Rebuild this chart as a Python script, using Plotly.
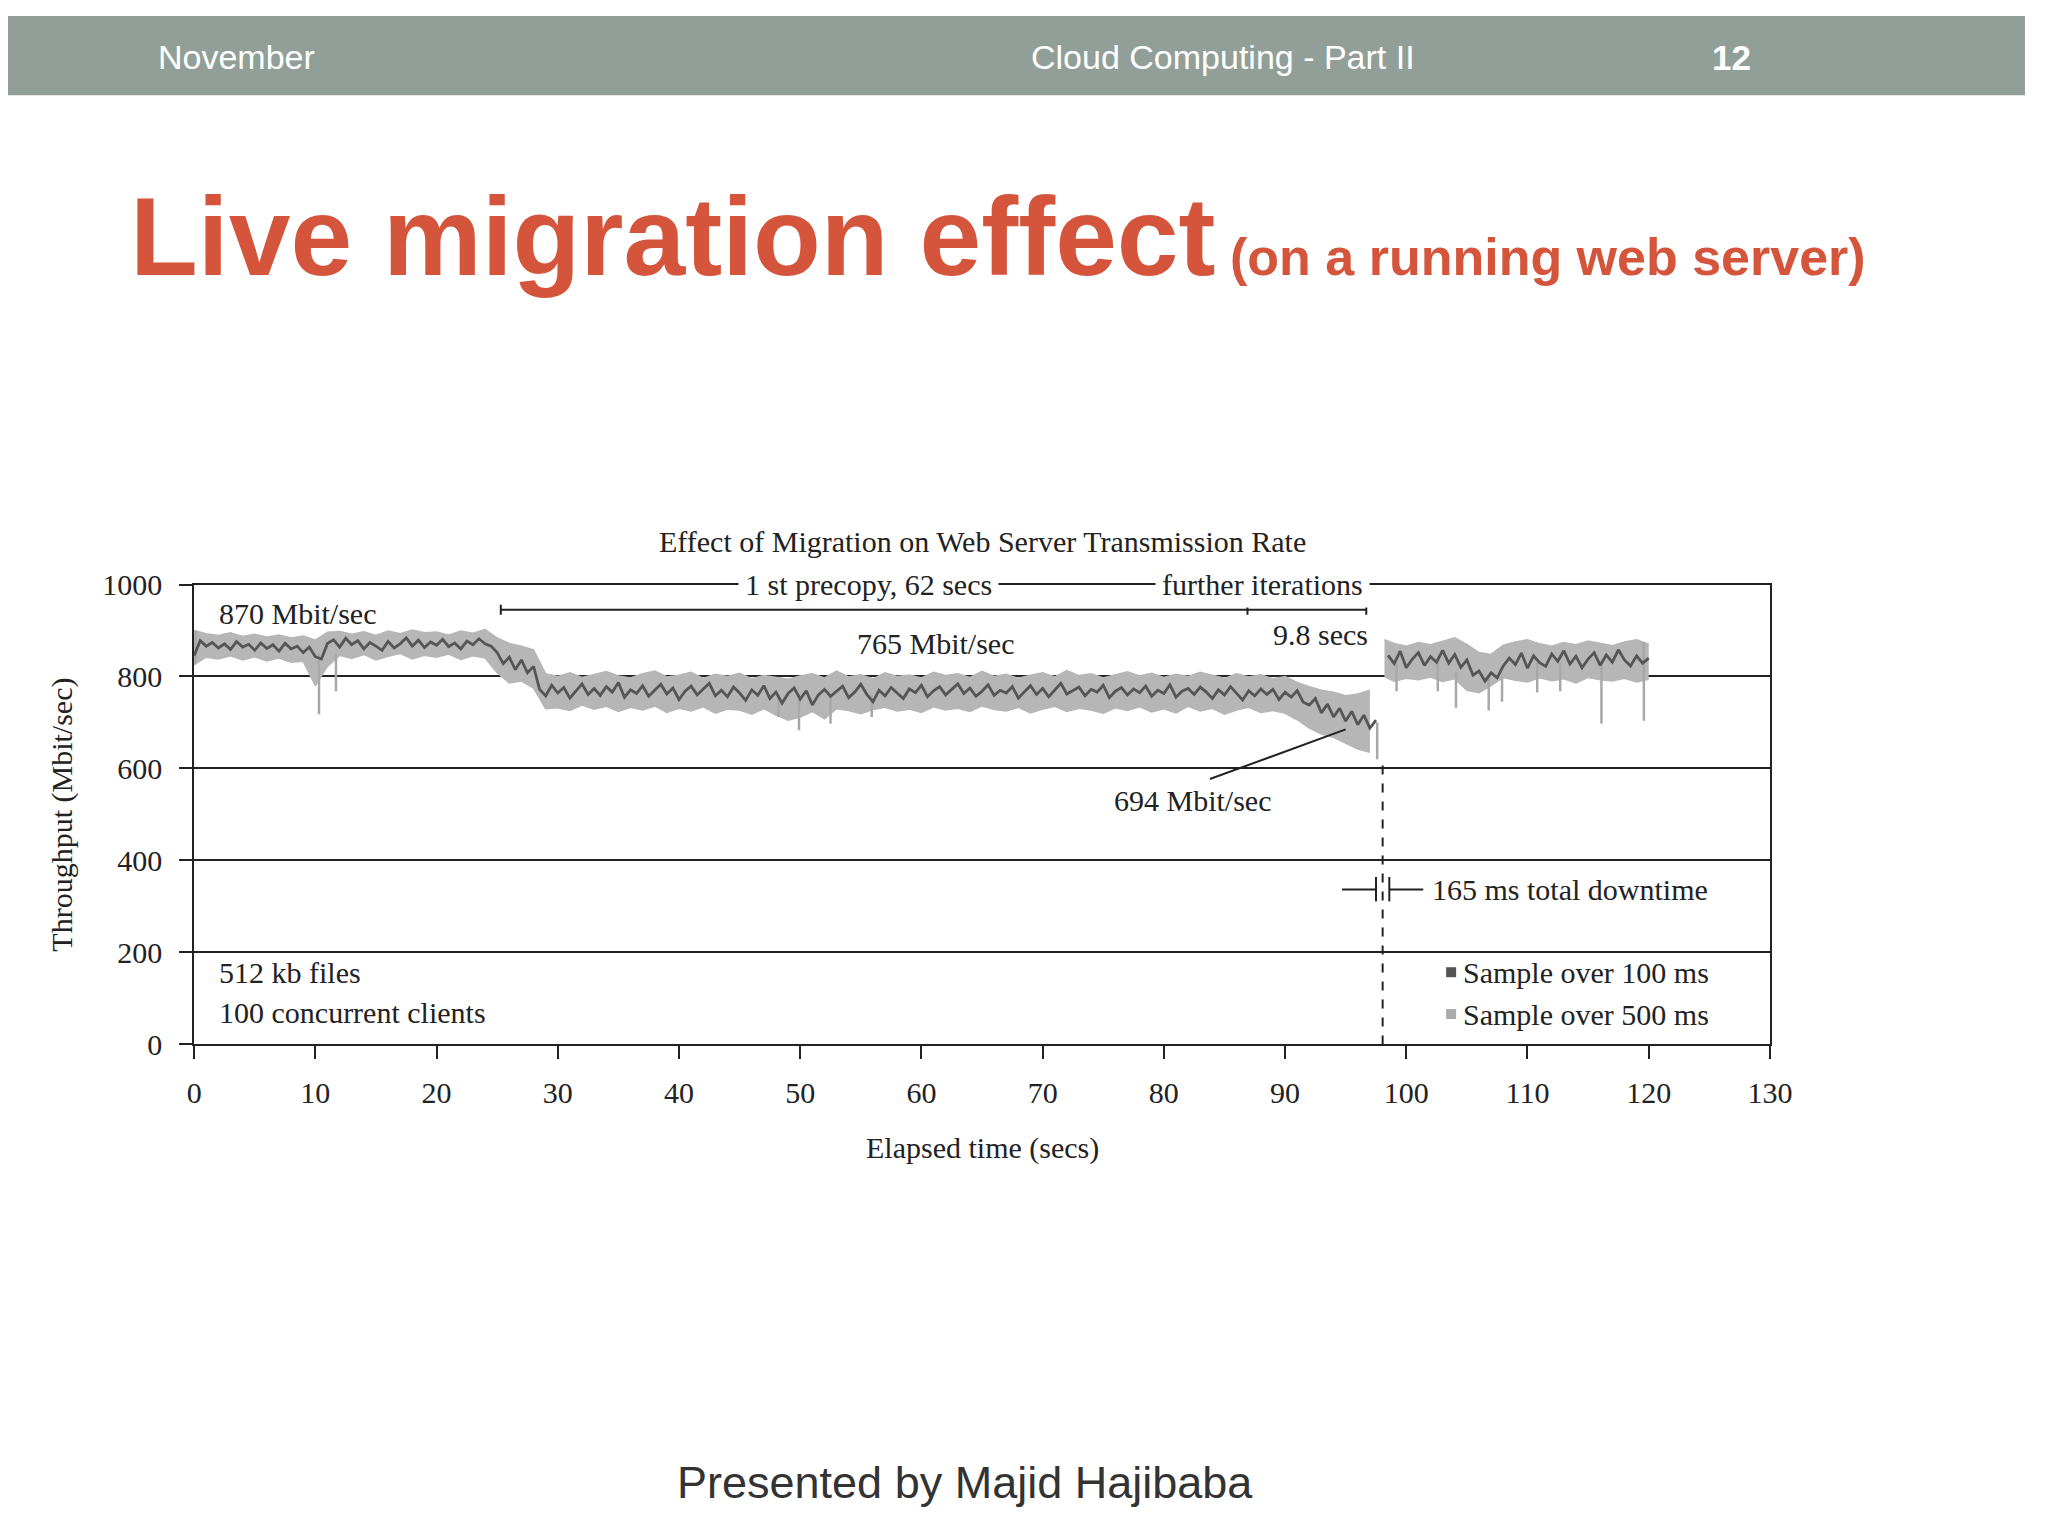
import plotly.graph_objects as go

# slide texts
header_left = "November"
header_mid = "Cloud Computing - Part II"
header_page = "12"
slide_title = "Live migration effect"
slide_subtitle = "(on a running web server)"
footer = "Presented by Majid Hajibaba"

# axes
x_ticks = [0, 10, 20, 30, 40, 50, 60, 70, 80, 90, 100, 110, 120, 130]
y_ticks = [0, 200, 400, 600, 800, 1000]

# throughput (Mbit/sec), 100 ms samples, read every 0.5 s off the figure
t_dark_pre = [i * 0.5 for i in range(196)]          # 0 .. 97.5 s
dark_pre = [
    845, 878, 866, 874, 862, 871, 859, 876, 864, 870,
    857, 873, 861, 869, 855, 872, 860, 866, 852, 864,
    843, 838, 872, 880, 864, 883, 869, 878, 860, 874,
    866, 857, 876, 862, 871, 884, 866, 879, 863, 875,
    868, 881, 865, 873, 860, 877, 869, 882, 871, 866,
    852, 828, 842, 815, 836, 808, 822,
    772, 758, 781, 764, 776, 753, 769, 784, 761, 774,
    759, 778, 766, 787, 755, 771, 763, 780, 757, 770,
    783, 762, 775, 750, 768, 779, 760, 773, 785, 758,
    770, 756, 777, 764, 748, 771, 759, 780, 752, 766,
    742, 763, 775, 751, 769, 738, 760, 772, 757, 768,
    779, 754, 766, 783, 761, 745, 770, 758, 776, 764,
    752, 773, 765, 781, 756, 769, 778, 760, 771, 784,
    763, 775, 757, 768, 782, 759, 770, 764, 778, 753,
    767, 780, 761, 774, 756, 771, 785, 762, 769, 777,
    758, 772, 766, 781, 754, 768, 776, 760, 773, 765,
    779, 757, 770, 763, 782, 755, 768, 774, 761, 777,
    766, 752, 771, 760, 778, 764, 749, 769, 758, 773,
    761, 772, 750, 766, 755, 769, 744,
    738, 752, 721, 740, 712, 731, 703, 724, 695, 716, 688, 705,
]
t_dark_post = [98.5 + i * 0.5 for i in range(44)]   # 98.5 .. 120 s
dark_post = [
    846, 828, 855, 819, 838, 852, 824, 843, 831, 857,
    829, 848, 820, 836, 803, 812, 790, 808, 797, 823,
    840, 826, 851, 818, 845, 830, 822, 849, 833, 856,
    827, 844, 819, 838, 852, 824, 847, 831, 858, 836,
    823, 845, 829, 840,
]

# 500 ms samples: spread (high / low) per second
t_light_pre = list(range(98))
light_pre_hi = [
    900, 893, 889, 895, 887, 892, 886, 890, 884, 888,
    879, 896, 898, 892, 897, 889, 899, 893, 901, 895,
    897, 890, 899, 894, 902, 884, 872, 866, 858, 806,
    800, 808, 798, 804, 811, 801, 797, 806, 812, 799,
    803, 809, 796, 805, 800, 807, 795, 802, 798, 794,
    801, 806, 797, 812, 799, 804, 795, 808, 800, 803,
    797, 809, 802, 806, 798, 811, 800, 805, 796, 803,
    808, 799, 813, 802, 806, 797, 804, 810, 801, 807,
    798, 805, 800, 809, 803, 796, 806, 799, 804, 795,
    800, 787, 778, 770, 766, 758, 762, 770,
]
light_pre_lo = [
    826, 842, 838, 845, 836, 843, 834, 840, 831, 833,
    780, 822, 846, 839, 848, 836, 844, 850, 838, 846,
    842, 849, 837, 845, 840, 808, 786, 790, 775, 730,
    732, 726, 738, 729, 735, 724, 733, 727, 736, 722,
    731, 725, 734, 720, 729, 727, 718, 730, 716, 705,
    712, 724, 708, 730, 726, 719, 728, 733, 725, 729,
    722, 734, 727, 731, 724, 736, 728, 725, 733, 721,
    729, 735, 724, 731, 727, 720, 732, 726, 734, 723,
    730, 721, 735, 725, 731, 718, 727, 733, 722, 726,
    720, 706, 688, 675, 668, 655, 642, 635,
]
t_light_post = [98.2] + list(range(99, 121))
light_post_hi = [880, 872, 866, 874, 869, 876, 884, 870, 852, 848, 868, 875,
                 880, 871, 866, 874, 869, 877, 872, 867, 875, 880, 870]
light_post_lo = [800, 790, 796, 793, 799, 789, 795, 770, 765, 780, 798, 792,
                 788, 797, 791, 795, 786, 798, 793, 790, 796, 788, 794]

# isolated drops in the 500 ms samples
spike_t = [0.1, 10.3, 11.7, 48.2, 49.9, 52.5, 55.9, 97.6, 99.2, 102.6, 104.1,
           106.8, 107.9, 110.8, 112.7, 116.1, 119.6]
spike_lo = [826, 718, 768, 712, 683, 697, 712, 620, 768, 768, 732, 726, 745,
            765, 768, 697, 704]
spike_hi = [900, 850, 850, 760, 760, 760, 760, 700, 830, 830, 810, 800, 800,
            830, 830, 820, 875]

migration_t = 98.05   # switch-over (downtime)

DARK = '#555555'
LIGHT = '#b6b6b6'
INK = '#222222'
SERIF = 'Liberation Serif'
SANS = 'Liberation Sans'

fig = go.Figure()

# light band (500 ms)
for tt, lo, hi in [(t_light_pre, light_pre_lo, light_pre_hi),
                   (t_light_post, light_post_lo, light_post_hi)]:
    fig.add_trace(go.Scatter(x=tt, y=lo, mode='lines',
                             line=dict(color=LIGHT, width=1.5), hoverinfo='skip'))
    fig.add_trace(go.Scatter(x=tt, y=hi, mode='lines', fill='tonexty',
                             fillcolor=LIGHT, line=dict(color=LIGHT, width=1.5),
                             name='Sample over 500 ms'))

sx, sy = [], []
for t, lo, hi in zip(spike_t, spike_lo, spike_hi):
    sx += [t, t, None]
    sy += [lo, hi, None]
fig.add_trace(go.Scatter(x=sx, y=sy, mode='lines',
                         line=dict(color='#a8a8a8', width=2.5), hoverinfo='skip'))

# dark trace (100 ms)
for tt, vv in [(t_dark_pre, dark_pre), (t_dark_post, dark_post)]:
    fig.add_trace(go.Scatter(x=tt, y=vv, mode='lines',
                             line=dict(color=DARK, width=2.8),
                             name='Sample over 100 ms'))

# legend squares inside the plot
fig.add_trace(go.Scatter(x=[103.7, 103.7], y=[157, 66], mode='markers',
                         marker=dict(symbol='square', size=10, color=[DARK, '#aaaaaa']),
                         hoverinfo='skip'))

# downtime marker and brackets
line = dict(color=INK, width=2)
fig.add_shape(type='line', x0=migration_t, x1=migration_t, y0=0, y1=625,
              line=dict(color=INK, width=2, dash='dash'))
# precopy bracket
fig.add_shape(type='line', x0=25.3, x1=96.7, y0=945, y1=945, line=line)
for bx in [25.3, 86.9, 96.7]:
    fig.add_shape(type='line', x0=bx, x1=bx, y0=934, y1=956, line=line)
# 694 Mbit/sec pointer
fig.add_shape(type='line', x0=83.8, x1=95.0, y0=577, y1=685, line=line)
# 165 ms arrows
fig.add_shape(type='line', x0=94.7, x1=97.5, y0=337, y1=337, line=line)
fig.add_shape(type='line', x0=98.6, x1=101.4, y0=337, y1=337, line=line)
for bx in [97.5, 98.6]:
    fig.add_shape(type='line', x0=bx, x1=bx, y0=311, y1=364, line=line)


def note(text, x, y, xanchor='center', bg=None):
    fig.add_annotation(x=x, y=y, xref='x', yref='y', text=text, showarrow=False,
                       xanchor=xanchor, yanchor='middle',
                       font=dict(family=SERIF, size=30, color=INK),
                       bgcolor=bg, borderpad=6 if bg else 0)


def paper_note(text, px, py, size, family=SERIF, color=INK, xanchor='center', **kw):
    fig.add_annotation(x=px / 2048, y=1 - py / 1536, xref='paper', yref='paper',
                       text=text, showarrow=False, xanchor=xanchor, yanchor='middle',
                       font=dict(family=family, size=size, color=color), **kw)


note('870 Mbit/sec', 2.0, 938, 'left')
note('1 st precopy, 62 secs', 55.6, 1000, bg='white')
note('further iterations', 88.1, 1000, bg='white')
note('765 Mbit/sec', 61.2, 872)
note('9.8 secs', 96.9, 891, 'right')
note('694 Mbit/sec', 82.4, 530)
note('165 ms total downtime', 102.0, 337, 'left')
note('512 kb files', 2.0, 157, 'left')
note('100 concurrent clients', 2.0, 70, 'left')
note('Sample over 100 ms', 104.6, 157, 'left')
note('Sample over 500 ms', 104.6, 66, 'left')

# chart title and axis titles
paper_note('Effect of Migration on Web Server Transmission Rate', 989, 537, 30)
paper_note('Elapsed time (secs)', 989, 1157, 30)
paper_note('Throughput (Mbit/sec)', 55, 816, 30, textangle=-90)

# slide header bar
fig.add_shape(type='rect', xref='paper', yref='paper', x0=0, x1=1,
              y0=1 - 81 / 1536, y1=1, fillcolor='#929f98', line_width=0, layer='below')
paper_note(header_left, 150, 42, 34, SANS, 'white', 'left')
paper_note(header_mid, 1037, 42, 34, SANS, 'white', 'left')
paper_note('<b>' + header_page + '</b>', 1750, 42, 35, SANS, 'white')

# slide title
fig.add_annotation(x=122 / 2048, y=1 - 291 / 1536, xref='paper', yref='paper',
                   text='<b>' + slide_title + "</b><b><span style='font-size:52px'> "
                        + slide_subtitle + '</span></b>',
                   showarrow=False, xanchor='left', yanchor='bottom',
                   font=dict(family=SANS, size=111, color='#d4553b'))

# footer
paper_note(footer, 972, 1499, 45, SANS, '#333333')

axis_common = dict(showline=True, linecolor=INK, linewidth=2, mirror=True,
                   ticks='outside', ticklen=13, tickwidth=2, tickcolor=INK,
                   zeroline=False, tickfont=dict(family=SERIF, size=30, color=INK))
fig.update_layout(
    width=2048, height=1536,
    margin=dict(l=0, r=0, t=0, b=0),
    paper_bgcolor='white', plot_bgcolor='white',
    showlegend=False,
    xaxis=dict(domain=[189 / 2048, 1789 / 2048], range=[0, 130],
               tickvals=x_ticks, showgrid=False, ticklabelstandoff=8,
               **axis_common),
    yaxis=dict(domain=[1 - 1051 / 1536, 1 - 581 / 1536], range=[0, 1000],
               tickvals=y_ticks, showgrid=True, gridcolor=INK, gridwidth=2,
               ticklabelstandoff=11, **axis_common),
)

# no page margin around the fixed-size figure
pin = ("document.body.style.margin='0';"
       "document.body.style.overflow='hidden';")
fig.write_html("out.html", config={'displayModeBar': False}, post_script=pin)
